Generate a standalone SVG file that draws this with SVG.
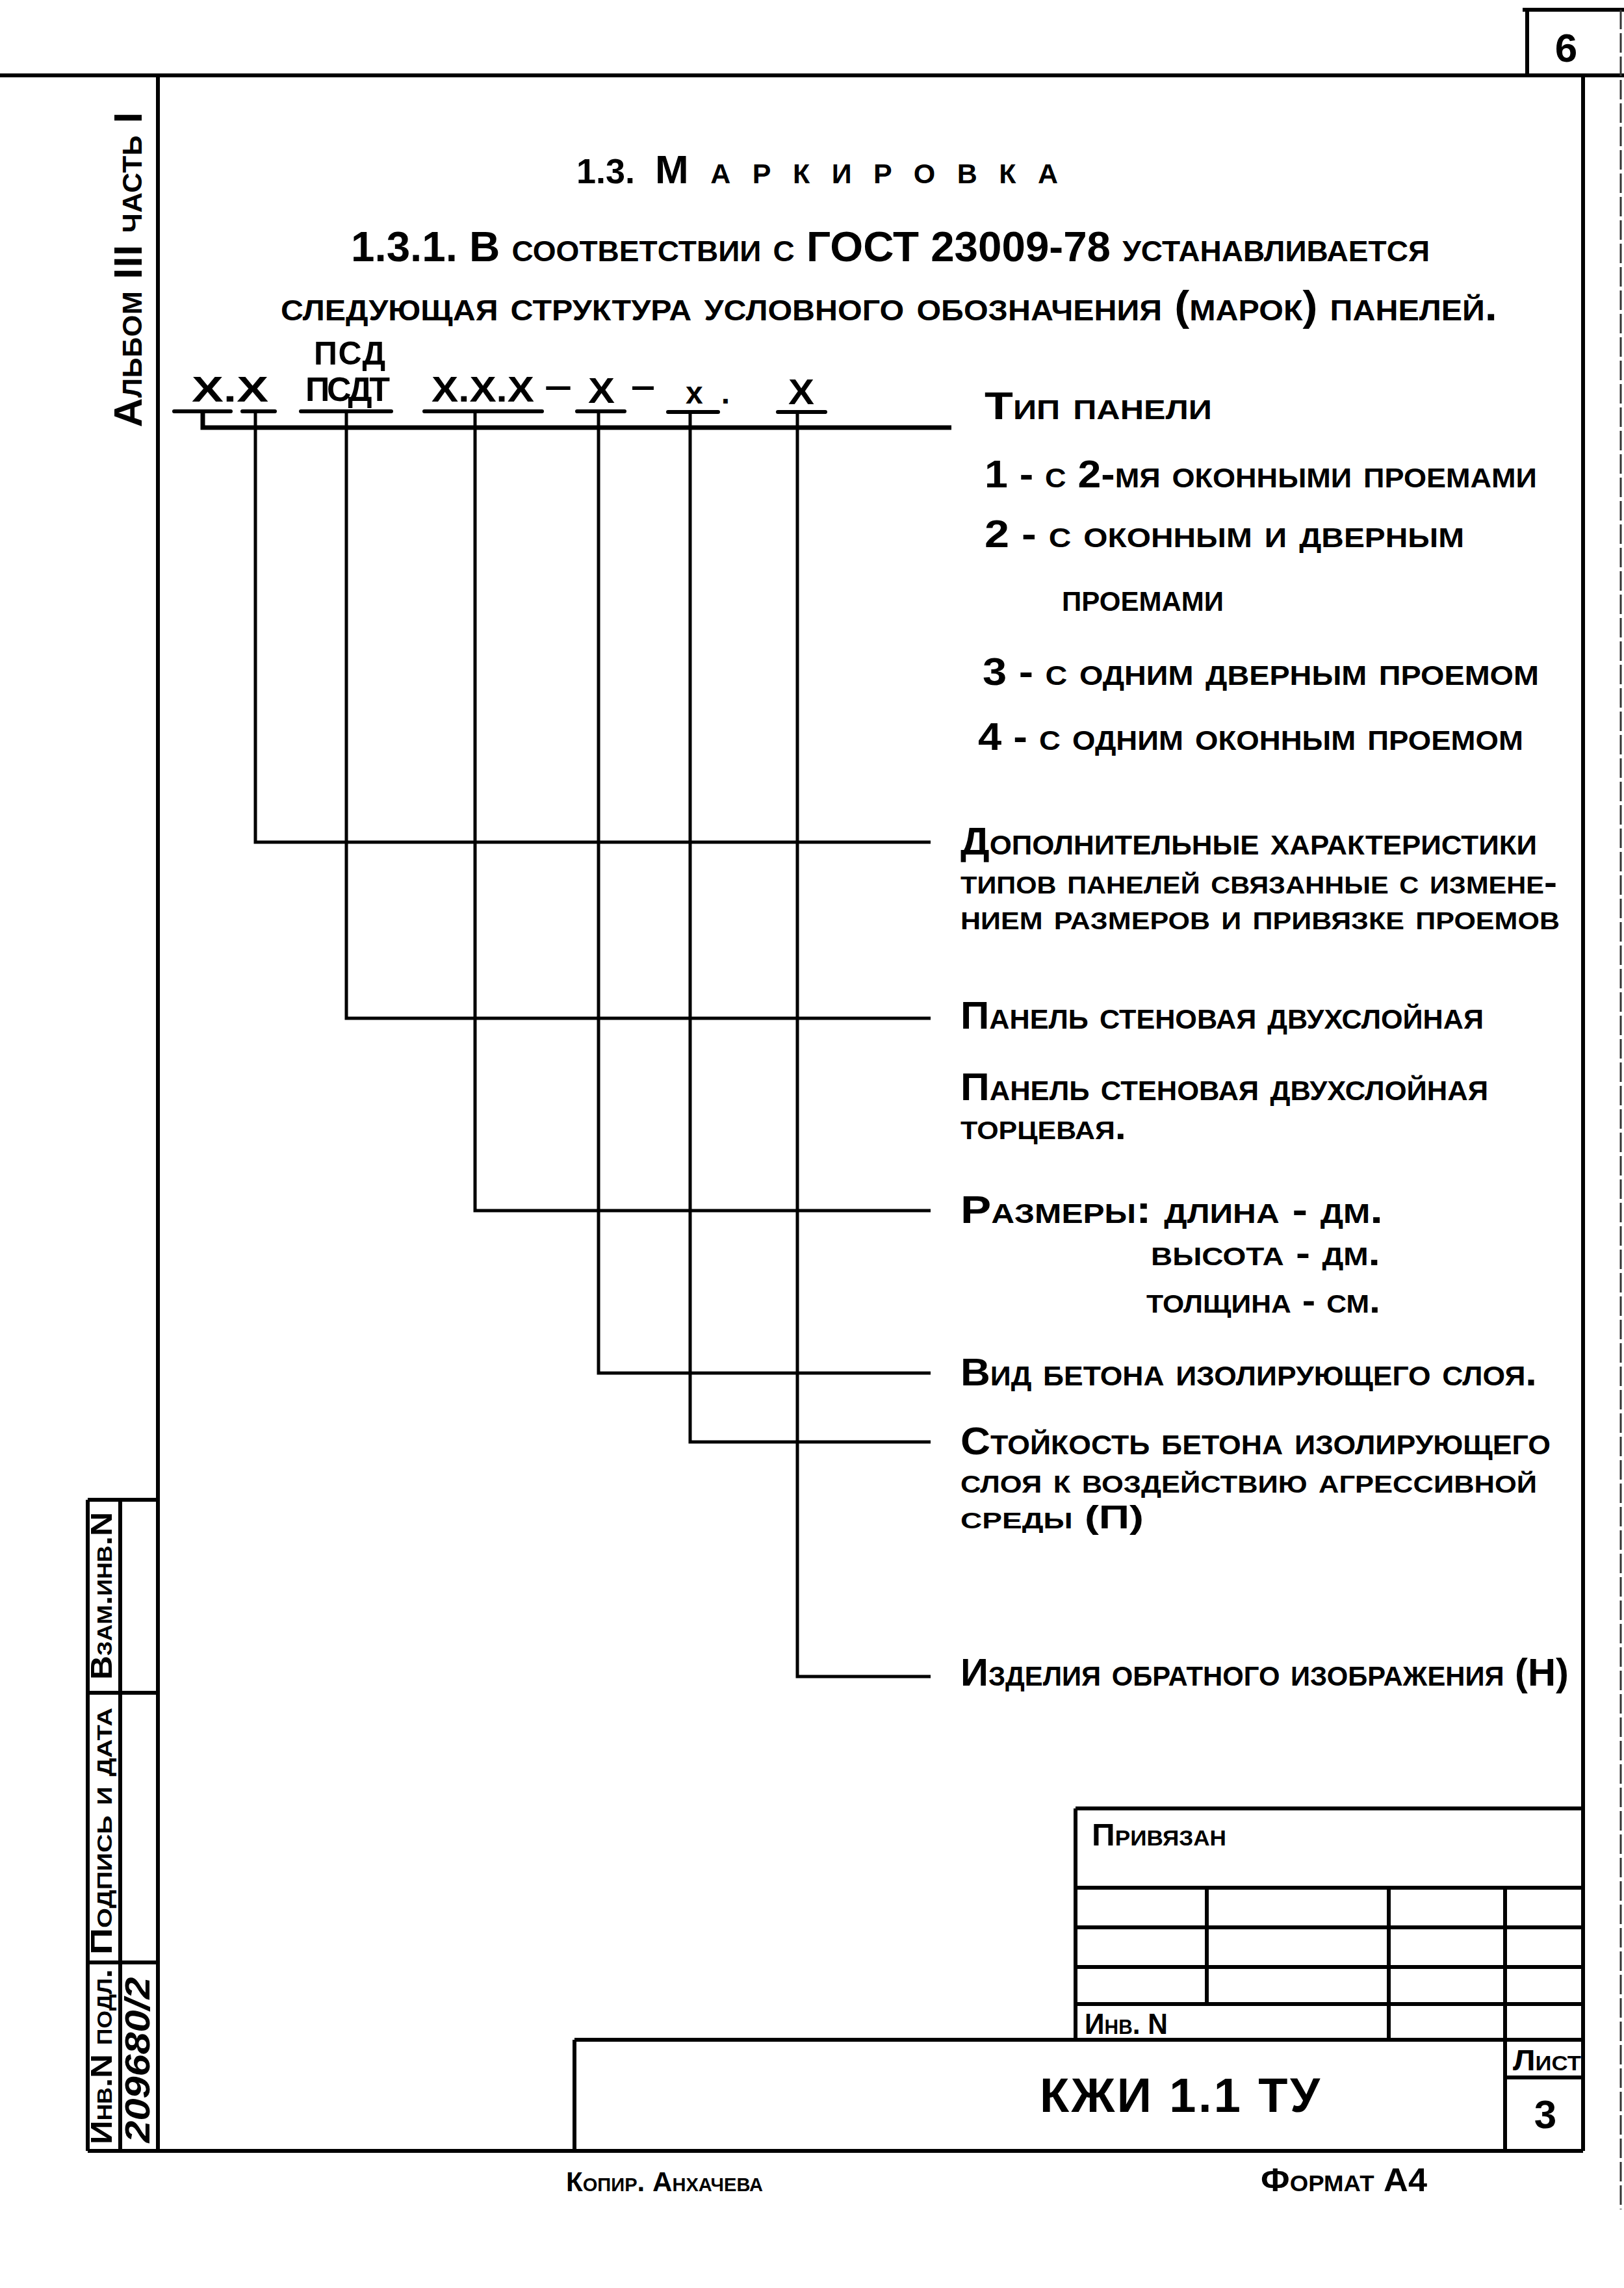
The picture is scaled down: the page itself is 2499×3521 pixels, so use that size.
<svg xmlns="http://www.w3.org/2000/svg" width="2499" height="3521" viewBox="0 0 2499 3521">
<style>
.t{font-family:"Liberation Sans","DejaVu Sans",sans-serif;font-weight:bold;fill:#000;font-variant:small-caps}
.r{font-family:"Liberation Sans","DejaVu Sans",sans-serif;font-weight:bold;fill:#000}
.fr{stroke:#000;stroke-width:6;fill:none}
.ul{stroke:#000;stroke-width:6;stroke-linecap:round;fill:none}
.cn{stroke:#000;stroke-width:5;fill:none}
</style>
<rect x="0" y="0" width="2499" height="3521" fill="#fff"/>
<g id="frame">
<path class="fr" d="M0,116 H2499 M243,116 V3310 M2436,116 V3310 M135,3310 H2436"/>
<path class="fr" d="M2343,15 H2499 M2350,15 V116"/>
<path d="M2494,15 V3400" stroke="#333" stroke-width="3" stroke-dasharray="30 6" fill="none"/>
<text class="r" x="2410" y="95" font-size="62" text-anchor="middle" font-weight="normal">6</text>
</g>
<g id="side-stamp">
<path class="fr" d="M135,2308 H243 M135,2308 V3310 M185,2308 V3310 M135,2605 H243 M135,3020 H243"/>
<text class="t" transform="translate(172,2456) rotate(-90)" font-size="46" text-anchor="middle" textLength="258" lengthAdjust="spacingAndGlyphs">Взам.инв.N</text>
<text class="t" transform="translate(172,2818) rotate(-90)" font-size="46" text-anchor="middle" textLength="380" lengthAdjust="spacingAndGlyphs">Подпись и дата</text>
<text class="t" transform="translate(172,3165) rotate(-90)" font-size="46" text-anchor="middle" textLength="270" lengthAdjust="spacingAndGlyphs">Инв.N подл.</text>
<text class="r" transform="translate(230,3170) rotate(-90)" font-size="54" font-style="italic" font-weight="normal" text-anchor="middle" textLength="255" lengthAdjust="spacingAndGlyphs">209680/2</text>
</g>
<g id="album">
<text class="t" transform="translate(218,415) rotate(-90)" font-size="62" text-anchor="middle" textLength="485" lengthAdjust="spacing">Альбом III часть I</text>
</g>
<g id="heading">
<text class="t" x="887" y="282" font-size="54">1.3.</text>
<text class="t" x="1008" y="282" font-size="62" textLength="620" lengthAdjust="spacing">Маркировка</text>
<text class="t" x="540" y="402" font-size="64" textLength="1660" lengthAdjust="spacingAndGlyphs">1.3.1. В соответствии с ГОСТ 23009-78 устанавливается</text>
<text class="t" x="432" y="493" font-size="64" textLength="1872" lengthAdjust="spacingAndGlyphs">следующая структура условного обозначения (марок) панелей.</text>
</g>
<g id="marking">
<text class="r" x="483" y="561" font-size="50" textLength="110" lengthAdjust="spacing">ПСД</text>
<text class="r" x="295" y="618" font-size="56" textLength="118" lengthAdjust="spacingAndGlyphs">Х.Х</text>
<text class="r" x="470" y="617" font-size="52" textLength="130" lengthAdjust="spacing">ПСДТ</text>
<text class="r" x="664" y="618" font-size="56" textLength="158" lengthAdjust="spacingAndGlyphs">Х.Х.Х</text>
<text class="r" x="838" y="612" font-size="56" textLength="42" lengthAdjust="spacingAndGlyphs">–</text>
<text class="r" x="905" y="620" font-size="56" textLength="41" lengthAdjust="spacingAndGlyphs">Х</text>
<text class="r" x="971" y="612" font-size="56" textLength="37" lengthAdjust="spacingAndGlyphs">–</text>
<text class="r" x="1055" y="621" font-size="48" textLength="68" lengthAdjust="spacing">х.</text>
<text class="r" x="1213" y="622" font-size="56" textLength="40" lengthAdjust="spacingAndGlyphs">Х</text>
</g>
<g id="connectors">
<path class="ul" d="M268,633 H355 M373,633 H423 M463,633 H602 M653,633 H834 M888,633 H961 M1028,634 H1105 M1197,634 H1270"/>
<path d="M312,633 V658 H1464" stroke="#000" stroke-width="7" fill="none"/>
<path class="cn" d="M393,633 V1296 H1432"/>
<path class="cn" d="M533,633 V1567 H1432"/>
<path class="cn" d="M731,633 V1863 H1432"/>
<path class="cn" d="M921,633 V2113 H1432"/>
<path class="cn" d="M1062,636 V2219 H1432"/>
<path class="cn" d="M1227,634 V2580 H1432"/>
</g>
<g id="type-labels">
<text class="t" x="1515" y="645" font-size="60" textLength="350" lengthAdjust="spacingAndGlyphs">Тип панели</text>
<text class="t" x="1515" y="750" font-size="60" textLength="850" lengthAdjust="spacingAndGlyphs">1 - с 2-мя оконными проемами</text>
<text class="t" x="1515" y="842" font-size="60" textLength="738" lengthAdjust="spacingAndGlyphs">2 - с оконным и дверным</text>
<text class="t" x="1634" y="940" font-size="60" textLength="249" lengthAdjust="spacingAndGlyphs">проемами</text>
<text class="t" x="1512" y="1054" font-size="60" textLength="856" lengthAdjust="spacingAndGlyphs">3 - с одним дверным проемом</text>
<text class="t" x="1505" y="1154" font-size="60" textLength="839" lengthAdjust="spacingAndGlyphs">4 - с одним оконным проемом</text>
</g>
<g id="label-additional">
<text class="t" x="1478" y="1315" font-size="60" textLength="887" lengthAdjust="spacingAndGlyphs">Дополнительные характеристики</text>
<text class="t" x="1478" y="1375" font-size="52" textLength="918" lengthAdjust="spacingAndGlyphs">типов панелей связанные с измене-</text>
<text class="t" x="1478" y="1430" font-size="52" textLength="922" lengthAdjust="spacingAndGlyphs">нием размеров и привязке проемов</text>
</g>
<g id="label-panel">
<text class="t" x="1478" y="1583" font-size="60" textLength="805" lengthAdjust="spacingAndGlyphs">Панель стеновая двухслойная</text>
<text class="t" x="1478" y="1693" font-size="60" textLength="812" lengthAdjust="spacingAndGlyphs">Панель стеновая двухслойная</text>
<text class="t" x="1478" y="1753" font-size="56" textLength="255" lengthAdjust="spacingAndGlyphs">торцевая.</text>
</g>
<g id="label-sizes">
<text class="t" x="1478" y="1882" font-size="60" textLength="650" lengthAdjust="spacingAndGlyphs">Размеры: длина - дм.</text>
<text class="t" x="1771" y="1947" font-size="56" textLength="353" lengthAdjust="spacingAndGlyphs">высота - дм.</text>
<text class="t" x="1764" y="2020" font-size="56" textLength="360" lengthAdjust="spacingAndGlyphs">толщина - см.</text>
</g>
<g id="label-concrete">
<text class="t" x="1478" y="2132" font-size="60" textLength="887" lengthAdjust="spacingAndGlyphs">Вид бетона изолирующего слоя.</text>
</g>
<g id="label-resistance">
<text class="t" x="1478" y="2238" font-size="60" textLength="908" lengthAdjust="spacingAndGlyphs">Стойкость бетона изолирующего</text>
<text class="t" x="1478" y="2297" font-size="52" textLength="887" lengthAdjust="spacingAndGlyphs">слоя к воздействию агрессивной</text>
<text class="t" x="1478" y="2352" font-size="50" textLength="282" lengthAdjust="spacingAndGlyphs">среды (П)</text>
</g>
<g id="label-mirror">
<text class="t" x="1478" y="2594" font-size="60" textLength="936" lengthAdjust="spacingAndGlyphs">Изделия обратного изображения (Н)</text>
</g>
<g id="title-block">
<path class="fr" d="M1655,2783 H2436 M1655,2783 V3139 M1655,2905 H2436 M1655,2966 H2436 M1655,3027 H2436 M1655,3084 H2436 M884,3139 H2436 M884,3139 V3310 M1857,2905 V3084 M2137,2905 V3139 M2316,2905 V3310 M2316,3197 H2436"/>
<text class="t" x="1680" y="2840" font-size="48" textLength="207" lengthAdjust="spacingAndGlyphs">Привязан</text>
<text class="t" x="1669" y="3130" font-size="44" textLength="128" lengthAdjust="spacingAndGlyphs">Инв. N</text>
<text class="r" x="1600" y="3250" font-size="74" font-weight="normal" textLength="431" lengthAdjust="spacing">КЖИ 1.1  ТУ</text>
<text class="t" x="2328" y="3186" font-size="44" textLength="105" lengthAdjust="spacingAndGlyphs">Лист</text>
<text class="r" x="2378" y="3275" font-size="62" font-weight="normal" text-anchor="middle">3</text>
<text class="t" x="871" y="3372" font-size="42" textLength="303" lengthAdjust="spacingAndGlyphs">Копир. Анхачева</text>
<text class="t" x="1940" y="3372" font-size="50" textLength="256" lengthAdjust="spacingAndGlyphs">Формат А4</text>
</g>
</svg>
